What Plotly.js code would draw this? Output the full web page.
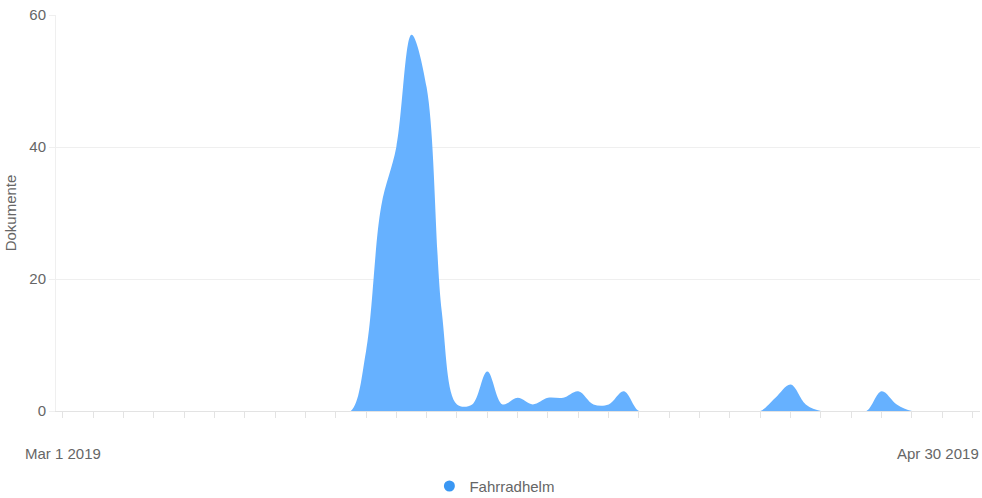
<!DOCTYPE html>
<html>
<head>
<meta charset="utf-8">
<script src="https://cdn.plot.ly/plotly-3.0.1.min.js"></script>
<style>
  html, body { margin: 0; padding: 0; background: #ffffff; }
  #chart { width: 982px; height: 498px; }
</style>
</head>
<body>
<div id="chart"></div>
<script>
// ---- data ----
const startDate = '2019-03-01';
const dayCount = 61; // Mar 1 .. Apr 30 2019
const seriesName = 'Fahrradhelm';
const values = [
  0, 0, 0, 0, 0, 0, 0, 0, 0, 0,      // Mar 1 - Mar 10
  0, 0, 0, 0, 0, 0, 0, 0, 0, 0,      // Mar 11 - Mar 20
  9, 31, 40, 57, 49, 15, 1, 1, 6, 1, // Mar 21 - Mar 30
  2, 1, 2, 2, 3, 1, 1, 3, 0, 0,      // Mar 31 - Apr 9
  0, 0, 0, 0, 0, 0, 0, 2, 4, 1,      // Apr 10 - Apr 19
  0, 0, 0, 0, 3, 1, 0, 0, 0, 0,      // Apr 20 - Apr 29
  0                                  // Apr 30
];
const yTickVals = [0, 20, 40, 60];
const firstLabel = 'Mar 1 2019';
const lastLabel = 'Apr 30 2019';
const yTitle = 'Dokumente';

// dates for each day
const dates = [];
for (let i = 0; i < dayCount; i++) {
  const d = new Date(Date.UTC(2019, 2, 1 + i));
  dates.push(d.toISOString().slice(0, 10));
}

const fillColor = '#66b1ff';
const dotColor = '#3a97f3';
const textColor = '#666666';
const gridColor = '#efefef';

const traces = [
  {
    type: 'scatter',
    mode: 'lines',
    x: dates,
    y: values,
    fill: 'tozeroy',
    fillcolor: fillColor,
    line: { shape: 'spline', smoothing: 1.0, width: 0, color: fillColor },
    showlegend: false,
    hoverinfo: 'x+y'
  },
  {
    type: 'scatter',
    mode: 'markers',
    x: [null],
    y: [null],
    name: seriesName,
    marker: { color: dotColor, size: 11, symbol: 'circle' },
    showlegend: true
  }
];

const layout = {
  width: 982,
  height: 498,
  margin: { l: 56, r: 2, t: 15, b: 87, autoexpand: false },
  paper_bgcolor: '#ffffff',
  plot_bgcolor: '#ffffff',
  font: { family: 'Liberation Sans, Arial, sans-serif', size: 15, color: textColor },
  xaxis: {
    type: 'date',
    range: ['2019-02-28 13:24', '2019-04-30 11:43'],
    tick0: startDate,
    dtick: 2 * 86400000,
    ticks: 'outside',
    ticklen: 6,
    tickcolor: '#e3e3e3',
    showticklabels: false,
    showgrid: false,
    zeroline: false,
    showline: true,
    linecolor: '#e3e3e3',
    linewidth: 1,
    automargin: false,
    fixedrange: true
  },
  yaxis: {
    range: [0, 60],
    tickvals: yTickVals,
    ticks: 'outside',
    ticklen: 6,
    tickcolor: gridColor,
    showgrid: true,
    gridcolor: gridColor,
    zeroline: false,
    showline: true,
    linecolor: gridColor,
    tickfont: { size: 15, color: textColor },
    title: { text: yTitle, font: { size: 15, color: textColor } },
    automargin: false,
    fixedrange: true
  },
  showlegend: true,
  legend: {
    orientation: 'h',
    x: 0.475,
    xanchor: 'center',
    y: -0.19,
    yanchor: 'middle',
    font: { size: 15, color: textColor },
    itemwidth: 30
  },
  annotations: [
    {
      xref: 'x', yref: 'y', x: dates[0], y: 0,
      text: firstLabel, showarrow: false,
      xanchor: 'center', yanchor: 'middle', yshift: -42,
      font: { size: 15, color: textColor }
    },
    {
      xref: 'x', yref: 'y', x: dates[dates.length - 1], y: 0,
      text: lastLabel, showarrow: false,
      xanchor: 'right', yanchor: 'middle', yshift: -42, xshift: 8,
      font: { size: 15, color: textColor }
    }
  ]
};

Plotly.newPlot('chart', traces, layout, { displayModeBar: false });
</script>
</body>
</html>
